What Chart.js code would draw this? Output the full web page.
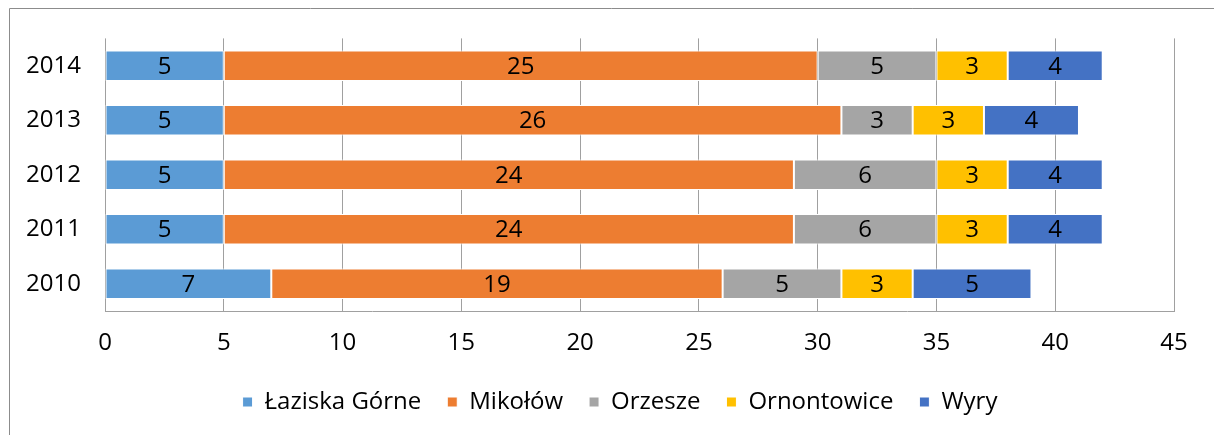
<!DOCTYPE html>
<html>
<head>
<meta charset="utf-8">
<script src="https://cdn.jsdelivr.net/npm/chart.js@4.4.1/dist/chart.umd.min.js"></script>
<style>
  html, body { margin: 0; padding: 0; background: #fff; }
  #wrap { width: 1214px; height: 435px; position: relative; }
</style>
</head>
<body>
<div id="wrap"><canvas id="c" width="1214" height="435"></canvas></div>
<script>
// Years, top to bottom
const years = ['2014', '2013', '2012', '2011', '2010'];

// Values per municipality, in the same order as the years
const laziskaGorne = [5, 5, 5, 5, 7];
const mikolow      = [25, 26, 24, 24, 19];
const orzesze      = [5, 3, 6, 6, 5];
const ornontowice  = [3, 3, 3, 3, 3];
const wyry         = [4, 4, 4, 4, 5];

const seriesNames  = ['Łaziska Górne', 'Mikołów', 'Orzesze', 'Ornontowice', 'Wyry'];
const seriesValues = [laziskaGorne, mikolow, orzesze, ornontowice, wyry];
const seriesColors = ['#5B9BD5', '#ED7D31', '#A5A5A5', '#FFC000', '#4472C4'];

const FONT = "'Open Sans', 'DejaVu Sans', sans-serif";
const FONT_SIZE = 24;

// Writes each segment's value in the middle of its bar
const segmentLabels = {
  id: 'segmentLabels',
  afterDatasetsDraw(chart) {
    const ctx = chart.ctx;
    ctx.save();
    ctx.font = FONT_SIZE + 'px ' + FONT;
    ctx.fillStyle = '#000';
    ctx.textAlign = 'center';
    ctx.textBaseline = 'middle';
    chart.data.datasets.forEach((ds, i) => {
      const meta = chart.getDatasetMeta(i);
      meta.data.forEach((bar, j) => {
        const v = ds.data[j];
        const cx = (bar.x + bar.base) / 2;
        ctx.fillText(String(v), cx, bar.y + 1);
      });
    });
    ctx.restore();
  }
};

// Centre the legend under the plot area rather than the whole canvas
const legendUnderPlot = {
  id: 'legendUnderPlot',
  afterLayout(chart) {
    const lg = chart.legend;
    if (!lg) return;
    const shift = 33;
    lg.left += shift;
    lg.right += shift;
  }
};

// Thin frame around the whole figure
const frame = {
  id: 'frame',
  beforeDraw(chart) {
    const ctx = chart.ctx;
    ctx.save();
    ctx.strokeStyle = '#8c8c8c';
    ctx.lineWidth = 1;
    ctx.beginPath();
    ctx.moveTo(9.5, chart.height);
    ctx.lineTo(9.5, 8.5);
    ctx.lineTo(chart.width, 8.5);
    ctx.stroke();
    ctx.restore();
  }
};

new Chart(document.getElementById('c'), {
  type: 'bar',
  data: {
    labels: years,
    datasets: seriesNames.map((name, i) => ({
      label: name,
      data: seriesValues[i],
      backgroundColor: seriesColors[i],
      borderColor: '#ffffff',
      borderWidth: 1,
      borderSkipped: false,
      categoryPercentage: 1,
      barPercentage: 0.56
    }))
  },
  options: {
    indexAxis: 'y',
    responsive: false,
    animation: false,
    devicePixelRatio: 1,
    layout: { padding: { left: 0, right: 40, top: 38, bottom: 11 } },
    plugins: {
      tooltip: { enabled: false },
      legend: {
        position: 'bottom',
        labels: {
          boxWidth: 10,
          boxHeight: 10,
          padding: 26,
          color: '#000',
          font: { family: FONT, size: FONT_SIZE }
        }
      }
    },
    scales: {
      x: {
        stacked: true,
        min: 0,
        max: 45,
        ticks: {
          stepSize: 5,
          color: '#000',
          padding: 18,
          font: { family: FONT, size: FONT_SIZE }
        },
        grid: { color: '#a0a0a0', drawTicks: false },
        border: { color: '#a0a0a0' },
        afterFit(scale) { scale.height = 53; }
      },
      y: {
        stacked: true,
        ticks: {
          color: '#000',
          padding: 24,
          font: { family: FONT, size: FONT_SIZE }
        },
        grid: { display: false, drawTicks: false },
        border: { display: false },
        afterFit(scale) { scale.width = 105; }
      }
    }
  },
  plugins: [segmentLabels, legendUnderPlot, frame]
});
</script>
</body>
</html>
